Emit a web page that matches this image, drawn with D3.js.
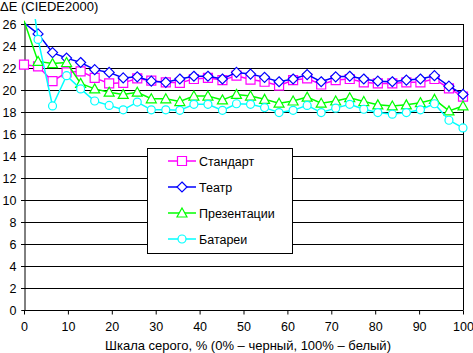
<!DOCTYPE html>
<html>
<head>
<meta charset="utf-8">
<script src="https://cdn.jsdelivr.net/npm/d3@7"></script>
<style>
  body { margin: 0; background: #fff; }
  svg { display: block; font-family: "Liberation Sans", Arial, sans-serif; }
</style>
</head>
<body>
<svg></svg>
<script>
// Data
const grayLevels = [0, 3.2, 6.5, 9.7, 12.9, 16.1, 19.4, 22.6, 25.8, 29.0, 32.3, 35.5, 38.7, 41.9, 45.2, 48.4,
  51.6, 54.8, 58.1, 61.3, 64.5, 67.7, 71.0, 74.2, 77.4, 80.6, 83.9, 87.1, 90.3, 93.5, 96.8, 100];

const standart = [22.3, 22.15, 20.8, 21.6, 21.7, 21.1, 20.6, 20.65, 21.05, 20.85, 20.7, 20.65, 21.0, 21.1, 20.9, 21.3,
  20.95, 20.75, 20.4, 20.9, 21.05, 20.5, 20.9, 21.0, 20.7, 20.6, 20.6, 20.7, 20.7, 21.0, 20.15, 19.4];
const teatr = [26.1, 25.1, 23.4, 22.9, 22.5, 21.85, 21.6, 21.1, 21.2, 20.8, 20.7, 21.0, 21.25, 21.25, 21.0, 21.6,
  21.45, 21.15, 20.75, 21.0, 21.4, 20.75, 21.2, 21.25, 21.0, 20.8, 20.75, 20.9, 21.0, 21.3, 20.35, 19.6];
const prezentacii = [26.3, 22.6, 22.4, 22.5, 20.6, 20.1, 19.8, 19.6, 19.8, 19.2, 19.2, 18.95, 19.45, 19.45, 19.1, 19.6,
  19.45, 19.15, 18.8, 19.0, 19.35, 18.8, 19.0, 19.3, 18.95, 18.65, 18.55, 18.65, 18.85, 19.15, 18.1, 18.55];
const batarei = [34, 24.6, 18.55, 21.3, 20.1, 19.0, 18.6, 18.2, 18.9, 18.2, 18.2, 18.15, 18.7, 18.7, 18.15, 18.75,
  18.7, 18.4, 17.95, 18.15, 18.6, 17.95, 18.35, 18.7, 18.25, 17.95, 17.8, 17.95, 18.2, 18.75, 17.25, 16.55];

const seriesNames = ["Стандарт", "Театр", "Презентации", "Батареи"];
const seriesValues = [standart, teatr, prezentacii, batarei];
const seriesColors = ["#ff00ff", "#0000ff", "#00ff00", "#00ffff"];
const seriesMarkers = ["square", "diamond", "triangle", "circle"];

const xTicks = [0, 10, 20, 30, 40, 50, 60, 70, 80, 90, 100];
const yTicks = [0, 2, 4, 6, 8, 10, 12, 14, 16, 18, 20, 22, 24, 26];

const yTitle = "ΔE (CIEDE2000)";
const xTitle = "Шкала серого, % (0% – черный, 100% – белый)";

// Layout
const width = 473;
const height = 353;
const padLeft = 24, padRight = 463, padTop = 24, padBottom = 310;

let svg = d3.select("svg").attr("width", width).attr("height", height);

let xScale = d3.scaleLinear().domain([0, 100]).range([padLeft, padRight]);
let yScale = d3.scaleLinear().domain([0, 26]).range([padBottom, padTop]);

// grid lines
svg.append("g")
  .selectAll("line")
  .data(yTicks.filter(d => d > 0))
  .enter()
  .append("line")
  .attr("x1", padLeft - 3)
  .attr("x2", padRight)
  .attr("y1", d => yScale(d) + 0.5)
  .attr("y2", d => yScale(d) + 0.5)
  .attr("stroke", "#000")
  .attr("stroke-width", 1);

// right border
svg.append("line")
  .attr("x1", padRight + 0.5).attr("x2", padRight + 0.5)
  .attr("y1", padTop).attr("y2", padBottom)
  .attr("stroke", "#000");

// axes
let xAxis = d3.axisBottom(xScale).tickValues(xTicks).tickSize(4).tickPadding(8);
let gx = svg.append("g")
  .attr("transform", "translate(0," + (padBottom + 0.5) + ")")
  .call(xAxis);
gx.select(".domain").attr("d", "M" + padLeft + ",0H" + (padRight + 0.5));
gx.selectAll("text").attr("font-size", 12.5).attr("fill", "#000").attr("font-family", "Liberation Sans, Arial");

let yAxis = d3.axisLeft(yScale).tickValues(yTicks).tickSize(3).tickPadding(5);
let gy = svg.append("g")
  .attr("transform", "translate(" + (padLeft + 0.5) + ",0)")
  .call(yAxis);
gy.selectAll("text").attr("font-size", 12.5).attr("fill", "#000").attr("font-family", "Liberation Sans, Arial");

// titles
svg.append("text")
  .text(yTitle)
  .attr("x", 0)
  .attr("y", 11)
  .attr("font-size", 13);

svg.append("text")
  .text(xTitle)
  .attr("x", 248)
  .attr("y", 350)
  .attr("text-anchor", "middle")
  .attr("font-size", 13);

// clip for lines
svg.append("clipPath").attr("id", "clip")
  .append("rect")
  .attr("x", padLeft).attr("y", padTop - 5)
  .attr("width", padRight - padLeft + 1).attr("height", padBottom - padTop + 5);

function markerPath(type) {
  if (type === "square") return d3.symbol(d3.symbolSquare, 81)();
  if (type === "diamond") return "M0,-5L5,0L0,5L-5,0Z";
  if (type === "triangle") return "M0,-5L5,4L-5,4Z";
  return d3.symbol(d3.symbolCircle, 50)();
}

let line = d3.line()
  .x((d, i) => xScale(grayLevels[i]))
  .y(d => yScale(d));

seriesValues.forEach((vals, s) => {
  let g = svg.append("g");
  g.append("path")
    .attr("d", line(vals))
    .attr("fill", "none")
    .attr("stroke", seriesColors[s])
    .attr("stroke-width", 1.5)
    .attr("clip-path", "url(#clip)");
  g.selectAll("path.mk")
    .data(vals.map((v, i) => [grayLevels[i], v]).filter(d => d[1] <= 26))
    .enter()
    .append("path")
    .attr("class", "mk")
    .attr("d", markerPath(seriesMarkers[s]))
    .attr("transform", d => "translate(" + xScale(d[0]) + "," + yScale(d[1]) + ")")
    .attr("fill", "#fff")
    .attr("stroke", seriesColors[s])
    .attr("stroke-width", 1.2);
});

// legend
let legend = svg.append("g");
legend.append("rect")
  .attr("x", 147.5).attr("y", 148.5)
  .attr("width", 145).attr("height", 105)
  .attr("fill", "#fff")
  .attr("stroke", "#000");

seriesNames.forEach((name, s) => {
  let cy = 161 + s * 26;
  legend.append("line")
    .attr("x1", 168).attr("x2", 196)
    .attr("y1", cy).attr("y2", cy)
    .attr("stroke", seriesColors[s])
    .attr("stroke-width", 1.5);
  legend.append("path")
    .attr("d", markerPath(seriesMarkers[s]))
    .attr("transform", "translate(182," + cy + ")")
    .attr("fill", "#fff")
    .attr("stroke", seriesColors[s])
    .attr("stroke-width", 1.2);
  legend.append("text")
    .text(name)
    .attr("x", 199)
    .attr("y", cy + 4.5)
    .attr("font-size", 12.5);
});
</script>
</body>
</html>
